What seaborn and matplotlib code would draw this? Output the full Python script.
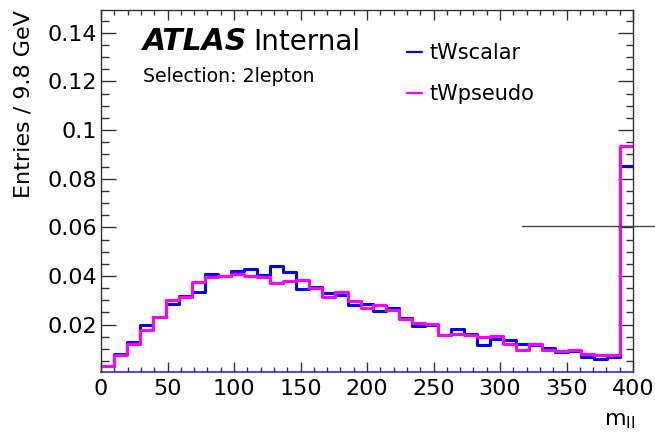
import numpy as np
import pandas as pd
import matplotlib
matplotlib.use("Agg")
import matplotlib.pyplot as plt
import matplotlib.transforms as mtransforms
from matplotlib.lines import Line2D
from matplotlib.ticker import MultipleLocator, FuncFormatter
import seaborn as sns

# m_ll binning: 41 bins between 0 and 400 GeV (last bin holds the overflow)
x_min, x_max, n_bins = 0.0, 400.0, 41

# normalised entries per bin
tw_scalar = [0.0030, 0.0081, 0.0130, 0.0199, 0.0232, 0.0286, 0.0319, 0.0336,
             0.0407, 0.0400, 0.0419, 0.0427, 0.0403, 0.0440, 0.0416, 0.0345,
             0.0355, 0.0332, 0.0321, 0.0279, 0.0284, 0.0256, 0.0267, 0.0227,
             0.0193, 0.0200, 0.0157, 0.0181, 0.0161, 0.0115, 0.0142, 0.0138,
             0.0121, 0.0117, 0.0104, 0.0087, 0.0091, 0.0068, 0.0060, 0.0068,
             0.0854]
tw_pseudo = [0.0029, 0.0074, 0.0122, 0.0179, 0.0232, 0.0300, 0.0312, 0.0375,
             0.0396, 0.0399, 0.0410, 0.0399, 0.0396, 0.0373, 0.0378, 0.0382,
             0.0349, 0.0312, 0.0334, 0.0295, 0.0270, 0.0282, 0.0262, 0.0223,
             0.0207, 0.0204, 0.0156, 0.0163, 0.0158, 0.0149, 0.0152, 0.0122,
             0.0097, 0.0120, 0.0097, 0.0091, 0.0096, 0.0077, 0.0074, 0.0074,
             0.0934]
series_names = ["tWscalar", "tWpseudo"]
series_colors = ["#0000ff", "#ff00ff"]
y_min, y_max = 0.0005, 0.1494
marker_level = 0.0604

bin_edges = np.linspace(x_min, x_max, n_bins + 1)
bin_centers = 0.5 * (bin_edges[:-1] + bin_edges[1:])
df = pd.DataFrame({
    "m_ll": np.concatenate([bin_centers, bin_centers]),
    "w": np.concatenate([tw_scalar, tw_pseudo]),
    "sample": [series_names[0]] * n_bins + [series_names[1]] * n_bins,
})

sns.set_style("ticks")
plt.rcParams["font.family"] = ["DejaVu Sans"]
plt.rcParams["text.color"] = "black"
plt.rcParams["axes.labelcolor"] = "black"

fig = plt.figure(figsize=(6.55, 4.33), dpi=100)
ax = fig.add_axes([101 / 655, 1 - 372 / 433, 532 / 655, 362 / 433])

for name, col in zip(series_names, series_colors):
    sns.histplot(data=df[df["sample"] == name], x="m_ll", weights="w",
                 bins=n_bins, binrange=(x_min, x_max), element="step",
                 fill=False, color=col, linewidth=2.2, ax=ax)

ax.set_xlim(x_min, x_max)
ax.set_ylim(y_min, y_max)

ax.xaxis.set_major_locator(MultipleLocator(50))
ax.xaxis.set_minor_locator(MultipleLocator(10))
ax.yaxis.set_major_locator(MultipleLocator(0.02))
ax.yaxis.set_minor_locator(MultipleLocator(0.005))
ax.yaxis.set_major_formatter(FuncFormatter(lambda v, p: f"{v:g}"))
ax.xaxis.set_major_formatter(FuncFormatter(lambda v, p: f"{v:g}"))

ax.tick_params(which="both", direction="in", top=True, right=True,
               colors="#333333", labelcolor="black", width=1.0)
ax.tick_params(axis="x", which="major", length=7.2, pad=5, labelsize=16)
ax.tick_params(axis="x", which="minor", length=3.6)
ax.tick_params(axis="y", which="major", length=10.8, pad=3, labelsize=16)
ax.tick_params(axis="y", which="minor", length=5.4)

for side in ["left", "right", "top"]:
    ax.spines[side].set_color("#333333")
    ax.spines[side].set_linewidth(1.0)
ax.spines["bottom"].set_color("#2a2ad8")
ax.spines["bottom"].set_linewidth(1.2)

ax.set_xlabel(r"$\mathregular{m_{ll}}$", loc="right", fontsize=16, labelpad=9)
ax.xaxis.label.set_x(1.005)
ax.set_ylabel("Entries / 9.8 GeV", loc="top", fontsize=16)
ax.yaxis.set_label_coords(-0.127, 1.0)

ax.text(0.079, 0.8895, "ATLAS", transform=ax.transAxes, fontsize=21.5,
        fontweight="bold", fontstyle="italic", ha="left", va="baseline")
ax.text(0.2857, 0.8895, "Internal", transform=ax.transAxes, fontsize=20,
        ha="left", va="baseline")
ax.text(0.079, 0.801, "Selection: 2lepton", transform=ax.transAxes,
        fontsize=13.6, ha="left", va="baseline")

handles = [Line2D([], [], color=c, lw=1.6) for c in series_colors]
ax.legend(handles, series_names, loc="upper left",
          bbox_to_anchor=(0.575, 0.908), frameon=False, fontsize=15,
          handlelength=0.72, handletextpad=0.38, labelspacing=1.0,
          borderpad=0, borderaxespad=0)

# reference level marker running out past the right frame
trans = mtransforms.blended_transform_factory(ax.transAxes, ax.transData)
ax.plot([0.791, 1.05], [marker_level, marker_level], transform=trans,
        color="#444444", lw=1.0, clip_on=False)

ax.set_title("")
fig.savefig("out.png", dpi=100)
